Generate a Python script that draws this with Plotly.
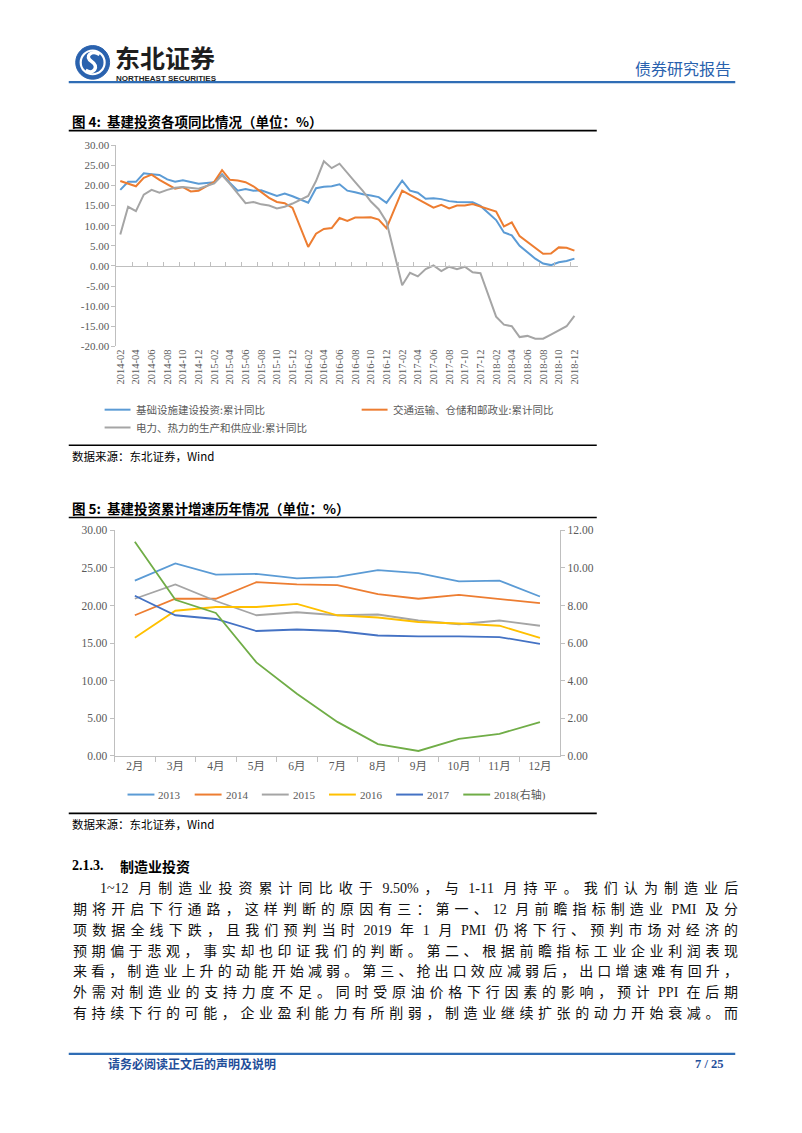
import plotly.graph_objects as go

W, H = 802, 1133

# ---------------- data: figure 4 (monthly, Jan not reported) ----------------
months1 = [f"{y}-{m:02d}" for y in range(2014, 2019) for m in range(2, 13)]
tick_labels1 = [f"{y}-{m:02d}" for y in range(2014, 2019) for m in range(2, 13, 2)]
y1_ticks = [-20, -15, -10, -5, 0, 5, 10, 15, 20, 25, 30]

name_infra = "基础设施建设投资:累计同比"
name_trans = "交通运输、仓储和邮政业:累计同比"
name_power = "电力、热力的生产和供应业:累计同比"

infra = [
    18.9, 20.9, 20.9, 23.0, 22.8, 22.6, 21.5, 20.9, 21.3, 20.9, 20.4,
    20.8, 22.8, 20.6, 18.7, 19.1, 18.7, 18.8, 18.0, 17.4, 18.0, 17.3,
    15.7, 19.3, 19.7, 19.8, 20.3, 18.7, 18.3, 17.8, 17.5, 17.1, 15.7,
    21.2, 18.7, 18.2, 16.7, 16.8, 16.6, 16.1, 15.9, 15.9, 15.8, 14.9,
    11.4, 8.3, 7.6, 5.0, 3.3, 1.8, 0.6, 0.2, 0.9, 1.2, 1.8]
transport = [
    21.1, 20.4, 19.8, 21.9, 22.7, 21.4, 20.3, 19.2, 19.6, 18.5, 18.7,
    20.9, 23.8, 21.4, 21.2, 20.8, 19.8, 18.4, 16.9, 15.9, 15.6, 14.4,
    4.7, 8.0, 9.2, 9.4, 11.9, 11.2, 12.0, 12.0, 12.1, 11.5, 9.4,
    18.7, 17.6, 16.5, 15.4, 14.5, 15.2, 14.3, 15.0, 15.0, 15.4, 14.8,
    13.5, 9.8, 10.8, 7.4, 5.9, 4.4, 3.0, 3.1, 4.6, 4.5, 3.8]
power = [
    7.8, 14.7, 13.6, 17.7, 18.9, 18.2, 18.9, 19.4, 19.6, 19.4, 19.2,
    20.5, 22.5, 20.4, 17.9, 15.6, 15.9, 15.3, 15.0, 14.3, 14.7, 15.5,
    17.4, 21.1, 26.0, 24.3, 25.4, 23.0, 20.8, 18.6, 16.0, 14.1, 11.0,
    -4.8, -1.7, -2.6, -0.8, 0.1, -1.3, -0.2, -0.8, -0.2, -1.6, -1.8,
    -12.6, -14.6, -15.0, -17.7, -17.4, -18.1, -18.1, -17.1, -16.0, -15.0, -12.4]

# ---------------- data: figure 5 ----------------
months2 = ["2月", "3月", "4月", "5月", "6月", "7月", "8月", "9月", "10月", "11月", "12月"]
y2_left_ticks = [0, 5, 10, 15, 20, 25, 30]
y2_right_ticks = [0, 2, 4, 6, 8, 10, 12]
series2_names = ["2013", "2014", "2015", "2016", "2017", "2018(右轴)"]
v2013 = [23.3, 25.6, 24.1, 24.2, 23.6, 23.8, 24.7, 24.3, 23.2, 23.3, 21.2]
v2014 = [18.7, 20.9, 20.9, 23.1, 22.8, 22.7, 21.5, 20.9, 21.4, 20.9, 20.3]
v2015 = [20.9, 22.8, 20.6, 18.7, 19.1, 18.7, 18.8, 18.0, 17.5, 18.0, 17.3]
v2016 = [15.7, 19.3, 19.8, 19.8, 20.2, 18.7, 18.4, 17.8, 17.6, 17.3, 15.7]
v2017 = [21.3, 18.7, 18.2, 16.6, 16.8, 16.6, 16.0, 15.9, 15.9, 15.8, 14.9]
v2018 = [11.4, 8.3, 7.6, 4.97, 3.3, 1.8, 0.62, 0.25, 0.9, 1.16, 1.79]

# ---------------- styling ----------------
C_BLUE, C_ORANGE, C_GRAY = "#5B9BD5", "#ED7D31", "#A5A5A5"
C_YELLOW, C_DBLUE, C_GREEN = "#FFC000", "#4472C4", "#70AD47"
AX = "#BFBFBF"
LBL = "#595959"
SERIF = "Liberation Serif, Noto Sans CJK SC"
CJK = "Noto Sans CJK SC"
BRAND = "#2A62AE"


def X(px):
    return px / W


def Y(py):
    return 1 - py / H


def mpos(label):
    y, m = label.split("-")
    return (int(y) - 2014) * 12 + int(m) - 2


shapes, annotations = [], []


def hline(x0, x1, y, color, width):
    shapes.append(dict(type="line", xref="paper", yref="paper", x0=X(x0), x1=X(x1),
                       y0=Y(y), y1=Y(y), line=dict(color=color, width=width)))


def txt(s, x, y, size, color="#000000", family=CJK, bold=False, xanchor="left", yanchor="middle"):
    if bold:
        s = f"<b>{s}</b>"
    annotations.append(dict(text=s, x=X(x), y=Y(y), xref="paper", yref="paper", showarrow=False,
                            xanchor=xanchor, yanchor=yanchor, borderpad=0,
                            font=dict(size=size, color=color, family=family)))


fig = go.Figure()

# ---------- figure 4 traces ----------
xpos1 = [mpos(m) for m in months1]
for name, vals, col in [(name_infra, infra, C_BLUE), (name_trans, transport, C_ORANGE),
                        (name_power, power, C_GRAY)]:
    fig.add_trace(go.Scatter(x=xpos1, y=vals, mode="lines", name=name, showlegend=False,
                             line=dict(color=col, width=2), xaxis="x", yaxis="y"))
fig.add_trace(go.Scatter(x=[None], y=[None], mode="lines", showlegend=False, hoverinfo="skip",
                         xaxis="x3", yaxis="y"))

# ---------- figure 5 traces ----------
cols2 = [C_BLUE, C_ORANGE, C_GRAY, C_YELLOW, C_DBLUE, C_GREEN]
for name, vals, col in zip(series2_names, [v2013, v2014, v2015, v2016, v2017, v2018], cols2):
    fig.add_trace(go.Scatter(x=months2, y=vals, mode="lines", name=name, showlegend=False,
                             line=dict(color=col, width=1.8), xaxis="x2",
                             yaxis="y3" if name.startswith("2018") else "y2"))

# ---------- axes geometry ----------
x1_dom = [X(114.8), X(578.5)]
y1_dom = [Y(344.0), Y(140.7)]
zero_pos = y1_dom[0] + (0 - y1_ticks[0]) / (y1_ticks[-1] - y1_ticks[0]) * (y1_dom[1] - y1_dom[0])
x2_dom = [X(113.0), X(560.3)]
y2_dom = [Y(757.7), Y(530.0)]

tickfont1 = dict(family=SERIF, size=11, color=LBL)

fig.update_layout(
    width=W, height=H, margin=dict(l=0, r=0, t=0, b=0), autosize=False,
    paper_bgcolor="white", plot_bgcolor="white", showlegend=False,
    xaxis=dict(domain=x1_dom, anchor="y", range=[-0.5, 58.5], tickmode="array",
               tickvals=[mpos(t) for t in tick_labels1], ticktext=tick_labels1, tickangle=-90,
               tickfont=dict(family=SERIF, size=10.5, color=LBL), showline=False,
               showgrid=False, zeroline=False, ticks=""),
    xaxis3=dict(domain=x1_dom, anchor="free", position=zero_pos, overlaying="x",
                range=[-0.5, 58.5], tickmode="array", tickvals=[1.5 + 2 * k for k in range(29)],
                ticks="inside", ticklen=4, tickcolor=AX, showline=True, linecolor=AX, linewidth=1,
                showticklabels=False, showgrid=False, zeroline=False),
    yaxis=dict(domain=y1_dom, anchor="x", range=[y1_ticks[0], y1_ticks[-1]], tickmode="array",
               tickvals=y1_ticks, ticktext=[f"{v:.2f}" for v in y1_ticks], tickfont=tickfont1,
               showline=True, linecolor=AX, linewidth=1, ticks="outside", ticklen=4, tickcolor=AX,
               showgrid=False, zeroline=False),
    xaxis2=dict(domain=x2_dom, anchor="y2", type="category", range=[-0.5, 10.5],
                showline=True, linecolor=AX, linewidth=1, ticks="outside", tickson="boundaries",
                ticklen=5, tickcolor=AX, tickfont=dict(family=SERIF, size=11.5, color=LBL),
                showgrid=False, zeroline=False),
    yaxis2=dict(domain=y2_dom, anchor="x2", range=[0, 30], tickmode="array", tickvals=y2_left_ticks,
                ticktext=[f"{v:.2f}" for v in y2_left_ticks],
                tickfont=dict(family=SERIF, size=11.5, color=LBL), showline=True, linecolor=AX,
                linewidth=1, ticks="outside", ticklen=4, tickcolor=AX, showgrid=False, zeroline=False),
    yaxis3=dict(overlaying="y2", anchor="x2", side="right", range=[0, 12], tickmode="array",
                tickvals=y2_right_ticks, ticktext=[f"{v:.2f}" for v in y2_right_ticks],
                tickfont=dict(family=SERIF, size=11.5, color=LBL), showline=True, linecolor=AX,
                linewidth=1, ticks="outside", ticklen=4, tickcolor=AX, showgrid=False, zeroline=False),
)

# ---------- header ----------
shapes.append(dict(type="circle", xref="paper", yref="paper", x0=X(74), x1=X(108), y0=Y(74), y1=Y(40),
                   fillcolor=BRAND, line=dict(color=BRAND, width=1)))
shapes.append(dict(type="circle", xref="paper", yref="paper", x0=X(79), x1=X(103), y0=Y(69), y1=Y(45),
                   fillcolor="rgba(0,0,0,0)", line=dict(color="white", width=2.2)))
s_pts = [(98, 49), (90, 44), (82, 51), (90, 56), (98, 61), (92, 70), (84, 65)]
path = "M {} {} C {} {}, {} {}, {} {} C {} {}, {} {}, {} {}".format(
    *[v for p in s_pts for v in (X(p[0]), Y(p[1]))])
shapes.append(dict(type="path", xref="paper", yref="paper", path=path,
                   line=dict(color="white", width=3.5)))
txt("东北证券", 112, 52, 25, color="#1E1E1E", bold=True)
txt("NORTHEAST SECURITIES", 113, 73, 8, color="#1E1E1E", family="Liberation Sans", bold=True)
txt("债券研究报告", 733, 63, 16, color=BRAND, xanchor="right")
hline(67, 736, 77, "#2F6DB5", 2.2)

# ---------- figure 4 title / legend / source ----------
txt("图 4:  基建投资各项同比情况（单位：%）", 69, 116, 13.5, bold=True)
hline(67, 597, 126, "#000000", 1.6)
leg1 = [(name_infra, C_BLUE, 103, 408), (name_trans, C_ORANGE, 361, 408), (name_power, C_GRAY, 103, 426)]
for name, col, lx, ly in leg1:
    hline(lx, lx + 26, ly, col, 2)
    txt(name, lx + 30, ly, 10.5, color=LBL)
hline(67, 597, 444, "#000000", 1.6)
txt("数据来源：东北证券，Wind", 69, 455, 11.5)

# ---------- figure 5 title / legend / source ----------
txt("图 5:  基建投资累计增速历年情况（单位：%）", 69, 507, 13.5, bold=True)
hline(67, 597, 517, "#000000", 1.6)
for k, (name, col) in enumerate(zip(series2_names, cols2)):
    lx = 126 + 67.4 * k
    hline(lx, lx + 27, 797, col, 2)
    txt(name, lx + 30, 797, 11, color=LBL, family=SERIF)
hline(67, 597, 816, "#000000", 1.6)
txt("数据来源：东北证券，Wind", 69, 827, 11.5)

# ---------- body text ----------
txt("2.1.3.", 69, 869, 14, family="Liberation Serif", bold=True)
txt("制造业投资", 117, 869, 14, bold=True)

para = [
    "1~12 月制造业投资累计同比收于 9.50%，与 1-11 月持平。我们认为制造业后",
    "期将开启下行通路，这样判断的原因有三：第一、12 月前瞻指标制造业 PMI 及分",
    "项数据全线下跌，且我们预判当时 2019 年 1 月 PMI 仍将下行、预判市场对经济的",
    "预期偏于悲观，事实却也印证我们的判断。第二、根据前瞻指标工业企业利润表现",
    "来看，制造业上升的动能开始减弱。第三、抢出口效应减弱后，出口增速难有回升，",
    "外需对制造业的支持力度不足。同时受原油价格下行因素的影响，预计 PPI 在后期",
    "有持续下行的可能，企业盈利能力有所削弱，制造业继续扩张的动力开始衰减。而",
]
FS = 14.0
SPACE = 3.5
TIMES_W = {".": 0.25, "%": 0.833, "-": 0.333, "~": 0.541, "P": 0.556, "M": 0.889, "I": 0.333}


def is_cjk(ch):
    return ord(ch) >= 0x2E80


def split_runs(s):
    runs = []
    for ch in s:
        c = is_cjk(ch)
        if runs and runs[-1][0] == c:
            runs[-1][1] += ch
        else:
            runs.append([c, ch])
    return runs


for i, line in enumerate(para):
    x0 = 97 if i == 0 else 70
    ly = 890 + 21.2 * i
    runs = split_runs(line)
    n_cjk = sum(len(r) for c, r in runs if c)
    latin = [r.strip() for c, r in runs if not c]
    glyph_w = n_cjk * FS + sum(TIMES_W.get(ch, 0.5) for r in latin for ch in r) * FS
    n_spaces = sum(r.count(" ") for c, r in runs if not c)
    n_gaps = n_cjk + len(latin) - 1
    ls = (735 - x0 - glyph_w - SPACE * n_spaces) / n_gaps
    parts = []
    for j, (c, r) in enumerate(runs):
        if c:
            nxt_space = j + 1 < len(runs) and runs[j + 1][1].startswith(" ")
            if nxt_space:
                if len(r) > 1:
                    parts.append(f'<span style="letter-spacing:{ls:.2f}px">{r[:-1]}</span>')
                parts.append(f'<span style="letter-spacing:{ls + SPACE:.2f}px">{r[-1]}</span>')
            else:
                parts.append(f'<span style="letter-spacing:{ls:.2f}px">{r}</span>')
        else:
            core = r.strip()
            gap = ls + (SPACE if r.endswith(" ") else 0)
            if len(core) > 1:
                parts.append(f'<span style="font-family:Liberation Serif">{core[:-1]}</span>')
            parts.append(f'<span style="font-family:Liberation Serif;letter-spacing:{gap:.2f}px">{core[-1]}</span>')
    txt("".join(parts), x0, ly, FS, color="#111111")

# ---------- footer ----------
hline(67, 736, 1059, "#2F6DB5", 2.2)
txt("请务必阅读正文后的声明及说明", 105, 1069, 12, color="#1F4E9A", bold=True)
txt("7 / 25", 695, 1069, 12.5, color="#1F4E9A", family="Liberation Serif", bold=True)

fig.update_layout(shapes=shapes, annotations=annotations)
fig.write_html("out.html")
